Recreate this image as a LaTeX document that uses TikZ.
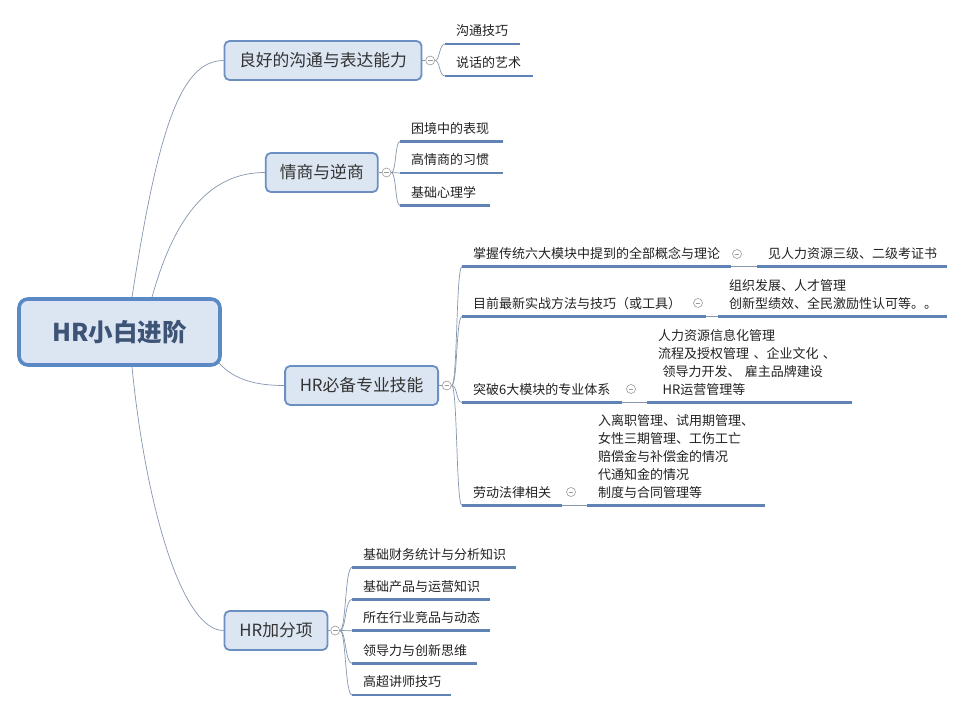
\documentclass[tikz,border=0pt]{standalone}
\usepackage{fontspec}
\setmainfont{Noto Sans CJK SC}
\usetikzlibrary{positioning, calc}

\definecolor{linkc}{HTML}{8797B0}
\definecolor{ulinec}{HTML}{5F83B5}
\definecolor{topicfill}{HTML}{DCE6F2}
\definecolor{topicdraw}{HTML}{6A8FC0}
\definecolor{rootdraw}{HTML}{5B89C6}
\definecolor{roottext}{HTML}{3E5477}
\definecolor{topictext}{HTML}{333333}
\definecolor{leaftext}{HTML}{222222}
\definecolor{foldc}{HTML}{9A9A9A}

\begin{document}
\begin{tikzpicture}[%
    x=1pt, y=-1pt,
    % Lines
    link/.style={draw=linkc, line width=0.7pt},
    uline/.style={draw=ulinec, line width=2.6pt},
    % Boxes
    rootbox/.style={draw=rootdraw, fill=topicfill, line width=3.6pt, rounded corners=9pt, minimum width=201pt, minimum height=66pt, text=roottext, font=\bfseries\fontsize{24.5}{28}\selectfont},
    topic/.style={draw=topicdraw, fill=topicfill, line width=1.8pt, rounded corners=5pt, minimum height=39pt, inner xsep=14pt, anchor=west, text=topictext, font=\fontsize{16.8}{20}\selectfont},
    fold/.style={circle, draw=foldc, fill=white, line width=0.6pt, minimum size=9pt, inner sep=0pt, path picture={\draw[foldc, line width=0.6pt] ([xshift=2.2pt]path picture bounding box.west) -- ([xshift=-2.2pt]path picture bounding box.east);}},
    leaf/.style={anchor=south west, inner xsep=11pt, inner ysep=2.6pt, align=left, text width=#1, text=leaftext, font=\fontsize{13}{18}\selectfont, execute at end node=\strut}
]
\fill[white] (0,0) rectangle (968,712);
\useasboundingbox (0,0) rectangle (968,712);

% --- 1. Root ---
\node[rootbox] (root) at (119.5,332) {HR小白进阶};

% --- 2. Main topics ---
\node[topic, minimum width=197pt] (b1) at (223.6,60.5) {良好的沟通与表达能力};
\node[topic, minimum width=111pt] (b2) at (264.9,172.5) {情商与逆商};
\node[topic, minimum width=153pt] (b3) at (284.2,385.5) {HR必备专业技能};
\node[topic, minimum width=103pt] (b4) at (223.6,630.5) {HR加分项};

\node[fold, right=3pt of b1] (f1) {};
\node[fold, right=3pt of b2] (f2) {};
\node[fold, right=3pt of b3] (f3) {};
\node[fold, right=2pt of b4] (f4) {};

% Root connections
\draw[link] ([xshift=12.5pt]root.north) .. controls +(26,-168) and +(-43,0) .. (b1.west);
\draw[link] ([xshift=32.5pt]root.north) .. controls +(23,-83) and +(-54,0) .. (b2.west);
\draw[link] ([xshift=-3pt,yshift=4pt]root.south east) .. controls +(15,17) and +(-28,0) .. (b3.west);
\draw[link] ([xshift=12.5pt]root.south) .. controls +(13,133) and +(-43,0) .. (b4.west);

\draw[link] (b1.east) -- (f1.west);
\draw[link] (b2.east) -- (f2.west);
\draw[link] (b3.east) -- (f3.west);
\draw[link] (b4.east) -- (f4.west);

% --- 3. Communication ---
\node[leaf=53pt] (a1) at (445,44) {沟通技巧};
\node[leaf=66pt] (a2) at (445,76) {说话的艺术};

\draw[link] (f1.east) .. controls +(5,0) and +(-6,0) .. (a1.south west);
\draw[link] (f1.east) .. controls +(5,0) and +(-6,0) .. (a2.south west);

% --- 4. EQ and AQ ---
\node[leaf=81pt] (e1) at (400,141.5) {困境中的表现};
\node[leaf=81pt] (e2) at (400,173) {高情商的习惯};
\node[leaf=68pt] (e3) at (400,205.5) {基础心理学};

\draw[link] (f2.east) .. controls +(5,0) and +(-5,0) .. (e1.south west);
\draw[link] (f2.east) .. controls +(5,0) and +(-5,0) .. (e2.south west);
\draw[link] (f2.east) .. controls +(5,0) and +(-5,0) .. (e3.south west);

% --- 5. Professional skills ---
\node[leaf=247pt] (c1) at (462,266.5) {掌握传统六大模块中提到的全部概念与理论};
\node[leaf=222pt] (c2) at (462,316.5) {目前最新实战方法与技巧（或工具）};
\node[leaf=138pt] (c3) at (462,402.5) {突破6大模块的专业体系};
\node[leaf=78pt] (c4) at (462,505.5) {劳动法律相关};

\draw[link] (f3.east) .. controls +(6,0) and +(-6,0) .. (c1.south west);
\draw[link] (f3.east) .. controls +(6,0) and +(-6,0) .. (c2.south west);
\draw[link] (f3.east) .. controls +(6,0) and +(-6,0) .. (c3.south west);
\draw[link] (f3.east) .. controls +(6,0) and +(-6,0) .. (c4.south west);

\node[fold] (g1) at (737,254) {};
\node[fold] (g2) at (698,303) {};
\node[fold] (g3) at (631,389) {};
\node[fold] (g4) at (571,492) {};

\node[leaf=168pt] (c1x) at (757,266.5) {见人力资源三级、二级考证书};
\node[leaf=207pt] (c2x) at (718,316.5) {组织发展、人才管理\\创新型绩效、全民激励性认可等。。};
\node[leaf=183pt] (c3x) at (647,402.5) {人力资源信息化管理\\流程及授权管理~、企业文化~、\\~领导力开发、~雇主品牌建设\\~HR运营管理等};
\node[leaf=156pt] (c4x) at (587,505.5) {入离职管理、试用期管理、\\女性三期管理、工伤工亡\\赔偿金与补偿金的情况\\代通知金的情况\\制度与合同管理等};

\draw[link] (c1.south east) -- (c1x.south west);
\draw[link] (c2.south east) -- (c2x.south west);
\draw[link] (c3.south east) -- (c3x.south west);
\draw[link] (c4.south east) -- (c4x.south west);

% --- 6. Bonus items ---
\node[leaf=142pt] (d1) at (352,567.3) {基础财务统计与分析知识};
\node[leaf=116pt] (d2) at (352,599.3) {基础产品与运营知识};
\node[leaf=116pt] (d3) at (352,630.7) {所在行业竞品与动态};
\node[leaf=103pt] (d4) at (352,663.3) {领导力与创新思维};
\node[leaf=77pt] (d5) at (352,695) {高超讲师技巧};

\draw[link] (f4.east) .. controls +(6,0) and +(-7,0) .. (d1.south west);
\draw[link] (f4.east) .. controls +(6,0) and +(-7,0) .. (d2.south west);
\draw[link] (f4.east) .. controls +(6,0) and +(-7,0) .. (d3.south west);
\draw[link] (f4.east) .. controls +(6,0) and +(-7,0) .. (d4.south west);
\draw[link] (f4.east) .. controls +(6,0) and +(-7,0) .. (d5.south west);

% --- Underlines ---
\draw[uline] (a1.south west) -- (a1.south east);
\draw[uline] (a2.south west) -- (a2.south east);
\draw[uline] (e1.south west) -- (e1.south east);
\draw[uline] (e2.south west) -- (e2.south east);
\draw[uline] (e3.south west) -- (e3.south east);
\draw[uline] (c1.south west) -- (c1.south east);
\draw[uline] (c2.south west) -- (c2.south east);
\draw[uline] (c3.south west) -- (c3.south east);
\draw[uline] (c4.south west) -- (c4.south east);
\draw[uline] (c1x.south west) -- (c1x.south east);
\draw[uline] (c2x.south west) -- (c2x.south east);
\draw[uline] (c3x.south west) -- (c3x.south east);
\draw[uline] (c4x.south west) -- (c4x.south east);
\draw[uline] (d1.south west) -- (d1.south east);
\draw[uline] (d2.south west) -- (d2.south east);
\draw[uline] (d3.south west) -- (d3.south east);
\draw[uline] (d4.south west) -- (d4.south east);
\draw[uline] (d5.south west) -- (d5.south east);

\end{tikzpicture}
\end{document}
